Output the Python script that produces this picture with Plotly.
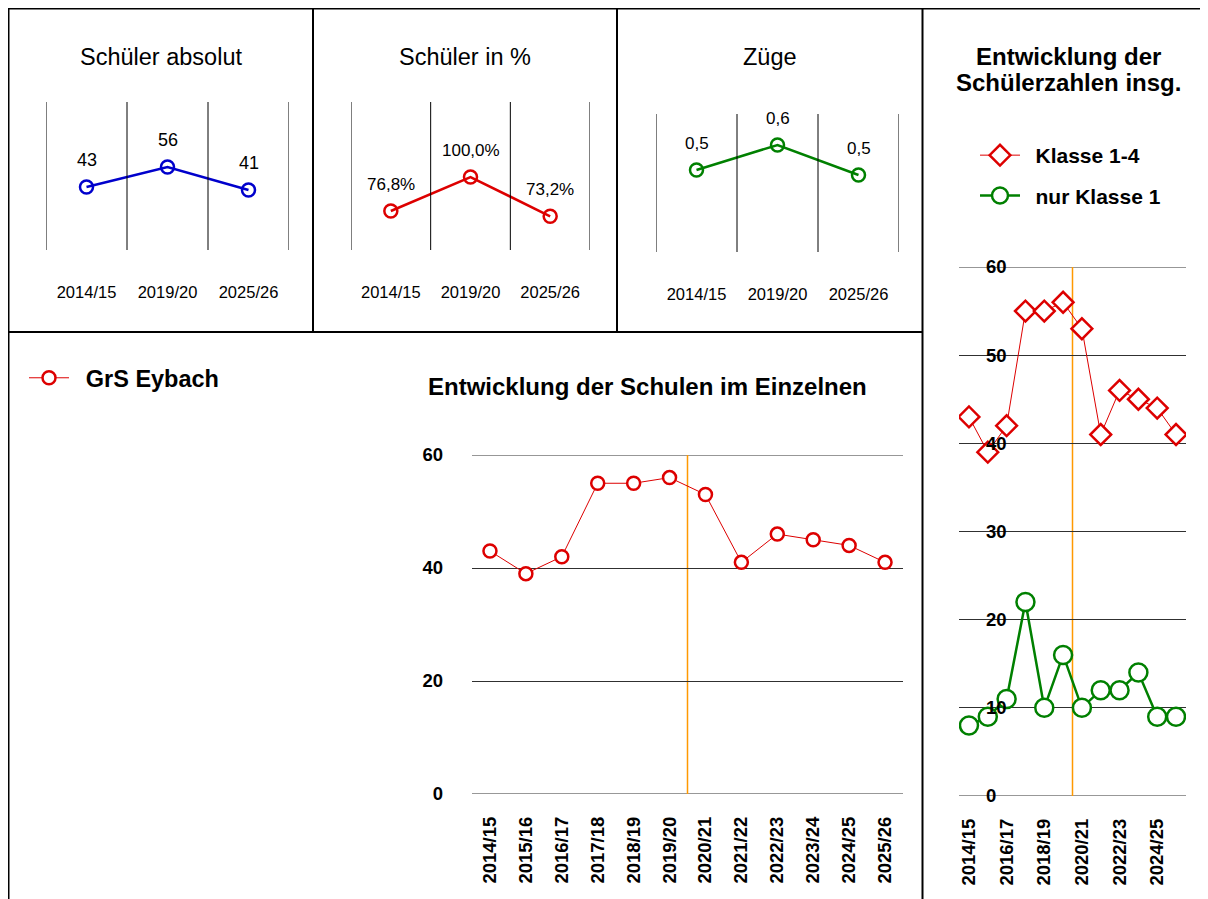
import plotly.graph_objects as go

# ---------------- data ----------------
years = ["2014/15", "2015/16", "2016/17", "2017/18", "2018/19", "2019/20",
         "2020/21", "2021/22", "2022/23", "2023/24", "2024/25", "2025/26"]
klasse_1_4 = [43, 39, 42, 55, 55, 56, 53, 41, 46, 45, 44, 41]
nur_klasse_1 = [8, 9, 11, 22, 10, 16, 10, 12, 12, 14, 9, 9]

summary_years = ["2014/15", "2019/20", "2025/26"]
schueler_abs = [43, 56, 41]
schueler_pct = [76.8, 100.0, 73.2]
zuege = [0.51, 0.61, 0.49]

divider_after = "2019/20"
right_ticks = years[::2]
bottom_yticks = [0, 20, 40, 60]
right_yticks = [0, 10, 20, 30, 40, 50, 60]

# ---------------- helpers ----------------
W, H = 1200, 891
OFF = 8  # page margin of the html body
FONT = "Liberation Sans, Arial, sans-serif"
GAP = "\u2002"  # gap between legend symbol and text


def px(sx):
    return (sx - OFF) / W


def py(sy):
    return 1 - (sy - OFF) / H


RED = "#DD0000"
BLUE = "#0000CC"
GREEN = "#008000"
ORANGE = "#FF9900"
GRID = "#303030"

fig = go.Figure()

# small summary panels
fig.add_trace(go.Scatter(x=summary_years, y=schueler_abs, xaxis="x", yaxis="y",
                         mode="lines+markers", showlegend=False,
                         line=dict(color=BLUE, width=2.5),
                         marker=dict(symbol="circle-open", size=13, color=BLUE, line=dict(width=2.5))))
fig.add_trace(go.Scatter(x=summary_years, y=schueler_pct, xaxis="x2", yaxis="y2",
                         mode="lines+markers", showlegend=False,
                         line=dict(color=RED, width=2.5),
                         marker=dict(symbol="circle-open", size=13, color=RED, line=dict(width=2.5))))
fig.add_trace(go.Scatter(x=summary_years, y=zuege, xaxis="x3", yaxis="y3",
                         mode="lines+markers", showlegend=False,
                         line=dict(color=GREEN, width=2.5),
                         marker=dict(symbol="circle-open", size=13, color=GREEN, line=dict(width=2.5))))

# bottom chart
fig.add_trace(go.Scatter(x=years, y=klasse_1_4, xaxis="x4", yaxis="y4", name=GAP + "GrS Eybach",
                         legend="legend", mode="lines+markers",
                         line=dict(color=RED, width=1),
                         marker=dict(symbol="circle", size=13, color="white", line=dict(color=RED, width=2.5))))

# right chart
fig.add_trace(go.Scatter(x=years, y=klasse_1_4, xaxis="x5", yaxis="y5", name=GAP + "Klasse 1-4",
                         legend="legend2", legendgroup="a", mode="lines+markers",
                         line=dict(color=RED, width=1),
                         marker=dict(symbol="diamond", size=16, color="white", line=dict(color=RED, width=2.5))))
fig.add_trace(go.Scatter(x=years, y=nur_klasse_1, xaxis="x5", yaxis="y6", name=GAP + "nur Klasse 1",
                         legend="legend2", legendgroup="b", mode="lines+markers",
                         line=dict(color=GREEN, width=2.5),
                         marker=dict(symbol="circle", size=18, color="white", line=dict(color=GREEN, width=2.5))))

small_tick_font = dict(family=FONT, size=16.5, color="black")
bold_tick_font = dict(family=FONT, size=18.5, color="black", weight="bold")


def small_x(dom_l, dom_r, anchor):
    return dict(domain=[px(dom_l), px(dom_r)], anchor=anchor, type="category", range=[-0.5, 2.5],
                showgrid=False, zeroline=False, showline=False, ticks="",
                tickfont=small_tick_font, ticklabelstandoff=30, fixedrange=True)


layout = dict(
    width=W, height=H, margin=dict(l=0, r=0, t=0, b=0, autoexpand=False),
    paper_bgcolor="white", plot_bgcolor="white",
    font=dict(family=FONT, color="black"),
    xaxis=small_x(46, 289, "y"),
    yaxis=dict(domain=[py(250), py(102)], anchor="x", range=[1.8, 98.5], visible=False, fixedrange=True),
    xaxis2=small_x(351, 590, "y2"),
    yaxis2=dict(domain=[py(250), py(102)], anchor="x2", range=[50.2, 151.2], visible=False, fixedrange=True),
    xaxis3=small_x(656, 899, "y3"),
    yaxis3=dict(domain=[py(252), py(114)], anchor="x3", range=[0.182, 0.734], visible=False, fixedrange=True),
    xaxis4=dict(domain=[px(472), px(903)], anchor="y4", type="category", range=[-0.5, 11.5],
                showgrid=False, zeroline=False, showline=False, ticks="",
                tickangle=-90, tickfont=bold_tick_font, ticklabelstandoff=18, fixedrange=True),
    yaxis4=dict(domain=[py(794), py(455)], anchor="x4", range=[0, 60], tickvals=bottom_yticks,
                showgrid=True, gridcolor=GRID, gridwidth=1, zeroline=False, showline=False,
                ticks="", tickfont=bold_tick_font, ticklabelstandoff=28, fixedrange=True),
    xaxis5=dict(domain=[px(959), px(1186)], anchor="y5", type="category", range=[-0.53, 11.53],
                tickvals=right_ticks, showgrid=False, zeroline=False, showline=False, ticks="",
                tickangle=-90, tickfont=bold_tick_font, ticklabelstandoff=18, fixedrange=True),
    yaxis5=dict(domain=[py(796), py(267)], anchor="x5", range=[0, 60], tickvals=right_yticks,
                showgrid=True, gridcolor=GRID, gridwidth=1, zeroline=False, showline=False,
                ticks="", showticklabels=False, fixedrange=True),
    yaxis6=dict(overlaying="y5", anchor="free", position=px(985), side="right",
                range=[0, 60], tickvals=right_yticks, showgrid=False, zeroline=False,
                showline=False, ticks="", tickfont=bold_tick_font, ticklabelstandoff=0,
                fixedrange=True),
    legend=dict(x=px(24), y=py(378), xanchor="left", yanchor="middle",
                bgcolor="rgba(0,0,0,0)", font=dict(family=FONT, size=23.5, color="black", weight="bold"),
                itemwidth=40),
    legend2=dict(x=px(975), y=py(135), xanchor="left", yanchor="top",
                 bgcolor="rgba(0,0,0,0)", font=dict(family=FONT, size=21, color="black", weight="bold"),
                 itemwidth=40, tracegroupgap=10),
    showlegend=True,
)
fig.update_layout(**layout)

shapes = []
# panel borders
border = dict(type="line", xref="paper", yref="paper", line=dict(color="black", width=2))
shapes.append({**border, "x0": px(8.5), "x1": px(8.5), "y0": py(8), "y1": py(899)})
shapes.append({**border, "x0": px(8), "x1": px(1208), "y0": py(8.5), "y1": py(8.5)})
shapes.append({**border, "x0": px(313), "x1": px(313), "y0": py(8), "y1": py(332)})
shapes.append({**border, "x0": px(617), "x1": px(617), "y0": py(8), "y1": py(332)})
shapes.append({**border, "x0": px(922.5), "x1": px(922.5), "y0": py(8), "y1": py(899)})
shapes.append({**border, "x0": px(8), "x1": px(922), "y0": py(332), "y1": py(332)})

# category separators in the small panels
for ax in ["x", "x2", "x3"]:
    yref = "y" + ax[1:]
    for b in [-0.5, 0.5, 1.5, 2.5]:
        shapes.append(dict(type="line", xref=ax, yref=yref + " domain", x0=b, x1=b, y0=0, y1=1,
                           line=dict(color="black", width=1)))

# gridlines at the range edges (plotly omits them)
for ax, ay, ticks in [("x4", "y4", bottom_yticks), ("x5", "y5", right_yticks)]:
    for v in (ticks[0], ticks[-1]):
        shapes.append(dict(type="line", xref=ax + " domain", yref=ay, x0=0, x1=1, y0=v, y1=v,
                           line=dict(color=GRID, width=1), layer="below"))

# orange divider
div_idx = years.index(divider_after) + 0.5
for ax, ay in [("x4", "y4"), ("x5", "y5")]:
    shapes.append(dict(type="line", xref=ax, yref=ay + " domain", x0=div_idx, x1=div_idx, y0=0, y1=1,
                       line=dict(color=ORANGE, width=1.5), layer="below"))
fig.update_layout(shapes=shapes)

ann = []
label_font = dict(family=FONT, size=17, color="black")
for xv, v in zip(summary_years, schueler_abs):
    ann.append(dict(x=xv, y=v, xref="x", yref="y", text=f"{v}", showarrow=False,
                    yshift=27, font=dict(family=FONT, size=18, color="black")))
for xv, v in zip(summary_years, schueler_pct):
    ann.append(dict(x=xv, y=v, xref="x2", yref="y2", text=f"{v:.1f}".replace(".", ",") + "%",
                    showarrow=False, yshift=27, font=label_font))
for xv, v in zip(summary_years, zuege):
    ann.append(dict(x=xv, y=v, xref="x3", yref="y3", text=f"{v:.1f}".replace(".", ","),
                    showarrow=False, yshift=27, font=label_font))

title_font = dict(family=FONT, size=23.5, color="black")
bold_title = dict(family=FONT, size=24, color="black", weight="bold")
for t, cx in [("Schüler absolut", 160.5), ("Schüler in %", 465), ("Züge", 770)]:
    ann.append(dict(x=px(cx), y=py(57), xref="paper", yref="paper", text=t, showarrow=False,
                    xanchor="center", yanchor="middle", font=title_font))
for t, cy in [("Entwicklung der", 57), ("Schülerzahlen insg.", 83)]:
    ann.append(dict(x=px(1068), y=py(cy), xref="paper", yref="paper", text=t, showarrow=False,
                    xanchor="center", yanchor="middle", font=bold_title))
ann.append(dict(x=px(647.5), y=py(387), xref="paper", yref="paper",
                text="Entwicklung der Schulen im Einzelnen", showarrow=False,
                xanchor="center", yanchor="middle", font=bold_title))
fig.update_layout(annotations=ann)

fig.write_html("out.html")
